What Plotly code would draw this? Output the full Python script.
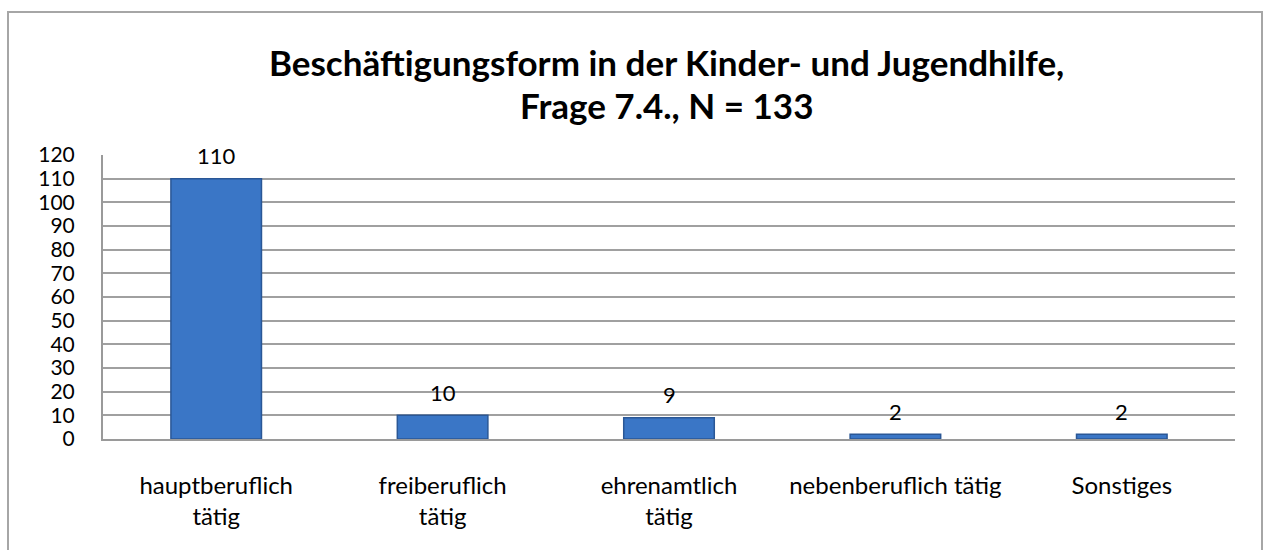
import plotly.graph_objects as go

categories = ["hauptberuflich<br>tätig", "freiberuflich<br>tätig", "ehrenamtlich<br>tätig",
              "nebenberuflich tätig", "Sonstiges"]
values = [110, 10, 9, 2, 2]
y_ticks = list(range(0, 121, 10))
title_line1 = "Beschäftigungsform in der Kinder- und Jugendhilfe,"
title_line2 = "Frage 7.4., N = 133"

W, H = 1264, 550
L, R, T, B = 103, 29, 155, 111
pw, ph = W - L - R, H - T - B

font = "Lato, 'Open Sans', sans-serif"

fig = go.Figure()
fig.add_trace(go.Bar(
    x=categories, y=values, width=0.4,
    marker=dict(color="#3a76c6", line=dict(color="#2a5796", width=1.5)),
    hoverinfo="x+y",
))

annotations = []
for c, v in zip(categories, values):
    annotations.append(dict(x=c, y=v, xref="x", yref="y", text=str(v), showarrow=False,
                            yanchor="middle", yshift=23,
                            font=dict(family=font, size=22, color="#000")))
annotations.append(dict(x=0.5, y=(H - 62 - B) / ph, xref="paper", yref="paper", text=title_line1,
                        showarrow=False, xanchor="center", yanchor="middle", xshift=-3,
                        font=dict(family=font, size=35, color="#000", weight="bold")))
annotations.append(dict(x=0.5, y=(H - 105 - B) / ph, xref="paper", yref="paper", text=title_line2,
                        showarrow=False, xanchor="center", yanchor="middle", xshift=-3,
                        font=dict(family=font, size=35, color="#000", weight="bold")))

# outer chart frame
fx0 = (8 - L) / pw
fx1 = (1262 - L) / pw
fy1 = (H - B - 12) / ph
fy0 = (H - B - 600) / ph

fig.update_layout(
    width=W, height=H,
    margin=dict(l=L, r=R, t=T, b=B, autoexpand=False),
    paper_bgcolor="white", plot_bgcolor="white",
    showlegend=False,
    annotations=annotations,
    shapes=[dict(type="rect", xref="paper", yref="paper", x0=fx0, x1=fx1, y0=fy0, y1=fy1,
                 line=dict(color="#a6a6a6", width=2), fillcolor="rgba(0,0,0,0)", layer="below")],
    xaxis=dict(showgrid=False, showline=True, linecolor="#9a9a9a", linewidth=2,
               tickfont=dict(family=font, size=24, color="#000"), ticks="outside",
               ticklen=0, ticklabelstandoff=24, fixedrange=True),
    yaxis=dict(range=[0, 120], tickvals=y_ticks, showgrid=True, gridcolor="#a0a0a0", gridwidth=2,
               showline=True, linecolor="#9a9a9a", linewidth=2, zeroline=False,
               tickfont=dict(family=font, size=21, color="#000"), ticklabelstandoff=22,
               fixedrange=True),
)

fig.write_html("out.html", config={"displayModeBar": False},
               post_script="document.body.style.margin='0';document.body.style.padding='0';")
